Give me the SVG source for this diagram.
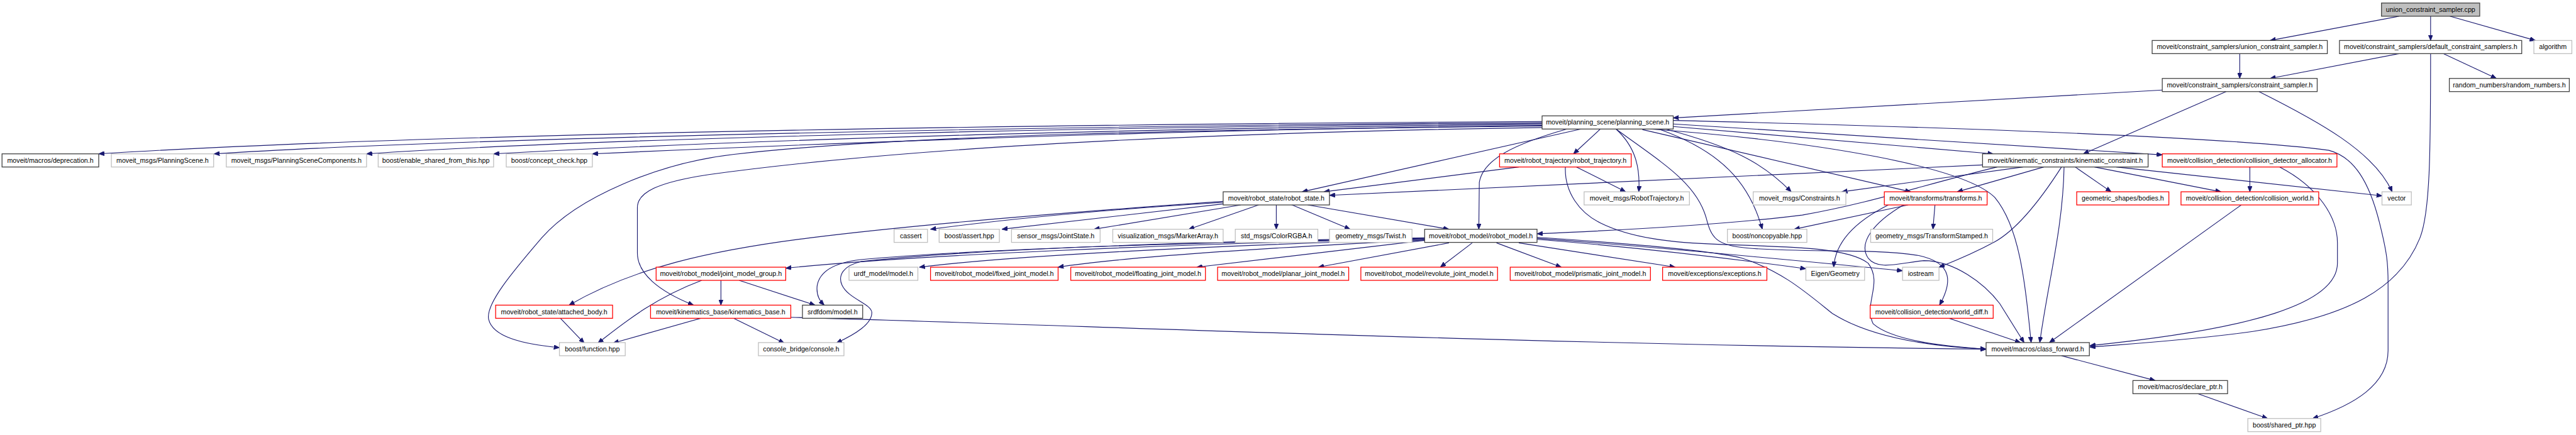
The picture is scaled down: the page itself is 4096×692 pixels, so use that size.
<svg xmlns="http://www.w3.org/2000/svg" width="4096" height="692" viewBox="0 0 4096 692">
<defs>
<marker id="ah" markerUnits="userSpaceOnUse" markerWidth="12" markerHeight="9" refX="11" refY="4.5" orient="auto"><path d="M0,0 L11,4.5 L0,9 z" fill="#191970" stroke="#191970" stroke-width="1"/></marker>
</defs>
<style>
.e{fill:none;stroke:#191970;stroke-width:1.4;marker-end:url(#ah)}
.n rect{fill:#fff;stroke-width:1.6}
.k rect{stroke:#404040}
.g rect{stroke:#bfbfbf}
.r rect{stroke:#ff0000}
.root rect{fill:#bfbfbf;stroke:#404040}
text{font-family:"Liberation Sans",Arial,sans-serif;font-size:13.3px;fill:#000;text-anchor:middle}
</style>
<rect width="4096" height="692" fill="#fff"/>
<g transform="scale(0.805)">
<g id="edges">
<path class="e" d="M4739,32 L4484,80"/>
<path class="e" d="M4801,32 L4801,80"/>
<path class="e" d="M4839,32 L5008,80"/>
<path class="e" d="M4424,106 L4424,155"/>
<path class="e" d="M4739,106 L4484,155"/>
<path class="e" d="M4826,106 L4931,155"/>
<path class="e" d="M4801,106 C4801,300 4800,420 4780,470 C4740,570 4640,625 4450,655 C4330,672 4200,680 4128,686"/>
<path class="e" d="M4271,178 L3305,233"/>
<path class="e" d="M4397,181 L4115,304"/>
<path class="e" d="M4462,181 C4580,240 4690,300 4725,379"/>
<path class="e" d="M3046,240 C2200,245 900,260 195,304"/>
<path class="e" d="M3046,242 C2200,248 1000,268 423,304"/>
<path class="e" d="M3046,244 C2200,250 1200,272 724,304"/>
<path class="e" d="M3046,246 C2300,252 1500,275 975,304"/>
<path class="e" d="M3046,248 C2400,255 1700,280 1170,304"/>
<path class="e" d="M3046,249 C2400,256 1800,265 1450,305 C1300,322 1140,390 1070,470 C1010,540 960,600 965,630 C972,665 1030,680 1105,687"/>
<path class="e" d="M3046,252 C2400,262 1800,290 1400,345 C1300,360 1259,380 1259,410 L1259,500 C1259,540 1300,575 1370,603"/>
<path class="e" d="M3123,255 L2572,379"/>
<path class="e" d="M3161,255 L3108,304"/>
<path class="e" d="M3192,255 C3230,290 3240,330 3237,379"/>
<path class="e" d="M3095,255 C2990,285 2930,315 2922,360 L2921,453"/>
<path class="e" d="M3192,255 C3280,320 3350,360 3370,430 C3380,470 3390,485 3450,490 C3560,500 3700,490 3790,505 C3860,520 3855,560 3831,603"/>
<path class="e" d="M3260,255 C3600,280 3880,330 3940,390 C3990,450 4000,560 4012,677"/>
<path class="e" d="M3290,255 C3420,290 3480,320 3538,379"/>
<path class="e" d="M3244,256 L3774,379"/>
<path class="e" d="M3279,256 C3400,300 3455,360 3481,453"/>
<path class="e" d="M3305,250 L3937,304"/>
<path class="e" d="M3305,245 L4271,306"/>
<path class="e" d="M3305,238 C3800,250 4400,270 4600,297 C4650,310 4680,360 4700,440 C4715,500 4717,520 4717,560 L4717,693 C4717,760 4650,800 4568,827"/>
<path class="e" d="M3000,330 L2615,379"/>
<path class="e" d="M3114,330 L3211,379"/>
<path class="e" d="M3092,330 C3090,380 3120,420 3160,440 C3220,470 3300,480 3400,483 C3550,488 3650,490 3690,520 C3720,560 3680,600 3700,640 C3740,675 3850,685 3923,690"/>
<path class="e" d="M3916,326 L2626,386"/>
<path class="e" d="M3996,330 L3638,379"/>
<path class="e" d="M4037,330 L3866,379"/>
<path class="e" d="M3945,330 C3800,365 3700,400 3560,425 C3400,445 3200,455 3036,462"/>
<path class="e" d="M4099,330 L4170,379"/>
<path class="e" d="M4137,330 L4387,379"/>
<path class="e" d="M4180,330 L4705,387"/>
<path class="e" d="M4072,330 C4040,380 3990,450 3940,478 C3890,505 3850,520 3830,528"/>
<path class="e" d="M4077,330 C4075,450 4045,560 4029,677"/>
<path class="e" d="M4444,330 L4444,379"/>
<path class="e" d="M4503,330 C4580,370 4617,430 4617,480 L4617,520 C4617,600 4450,650 4128,683"/>
<path class="e" d="M4427,405 L4048,677"/>
<path class="e" d="M3769,405 L3544,453"/>
<path class="e" d="M3730,405 C3660,440 3625,480 3622,528"/>
<path class="e" d="M3822,405 L3818,453"/>
<path class="e" d="M3760,405 C3700,440 3670,480 3690,510 C3710,535 3750,520 3800,515 C3860,515 3920,560 3950,600 L3998,677"/>
<path class="e" d="M3850,629 L3991,677"/>
<path class="e" d="M4072,703 L4257,752"/>
<path class="e" d="M4341,778 L4479,827"/>
<path class="e" d="M2583,405 L2862,453"/>
<path class="e" d="M2550,404 L2667,453"/>
<path class="e" d="M2521,405 L2521,453"/>
<path class="e" d="M2486,405 L2348,453"/>
<path class="e" d="M2451,405 L2161,453"/>
<path class="e" d="M2416,403 L1979,453"/>
<path class="e" d="M2416,400 C2250,410 2050,425 1838,453"/>
<path class="e" d="M2416,398 C2100,420 1800,445 1600,470 C1400,495 1250,530 1124,603"/>
<path class="e" d="M2862,480 L2604,528"/>
<path class="e" d="M2908,480 L2845,528"/>
<path class="e" d="M2956,480 L3084,528"/>
<path class="e" d="M3000,480 L3309,528"/>
<path class="e" d="M2814,475 L2364,528"/>
<path class="e" d="M2814,474 C2500,490 2200,510 2090,528"/>
<path class="e" d="M2814,473 C2400,485 2000,505 1816,528"/>
<path class="e" d="M2814,472 C2300,482 1800,505 1552,530"/>
<path class="e" d="M2814,471 C2300,480 1900,495 1700,513 C1640,520 1618,540 1614,565 C1612,585 1620,595 1628,603"/>
<path class="e" d="M2814,470 C2300,478 1900,495 1700,517 C1665,525 1655,545 1663,563 C1675,590 1720,600 1722,617 C1723,640 1690,660 1652,678"/>
<path class="e" d="M3036,473 C3250,490 3450,515 3567,531"/>
<path class="e" d="M3036,471 C3300,490 3600,520 3758,535"/>
<path class="e" d="M3036,469 C3200,480 3380,495 3440,510 C3520,535 3570,580 3620,620 C3700,670 3820,685 3923,690"/>
<path class="e" d="M1424,554 L1424,603"/>
<path class="e" d="M1460,554 L1610,603"/>
<path class="e" d="M1386,554 C1290,590 1230,640 1181,678"/>
<path class="e" d="M1107,629 L1154,678"/>
<path class="e" d="M1384,629 L1211,678"/>
<path class="e" d="M1449,629 L1549,678"/>
<path class="e" d="M1562,627 C2200,645 3000,680 3923,690"/>
</g>
<g id="n_cpp" class="n root"><rect x="4704" y="6" width="194" height="26"/><text x="4801" y="23.5">union_constraint_sampler.cpp</text></g>
<g id="n_ucs" class="n k"><rect x="4251" y="80" width="346" height="26"/><text x="4424" y="97.5">moveit/constraint_samplers/union_constraint_sampler.h</text></g>
<g id="n_dcs" class="n k"><rect x="4621" y="80" width="360" height="26"/><text x="4801" y="97.5">moveit/constraint_samplers/default_constraint_samplers.h</text></g>
<g id="n_alg" class="n g"><rect x="5005" y="80" width="75" height="26"/><text x="5042.5" y="97.5">algorithm</text></g>
<g id="n_cs" class="n k"><rect x="4271" y="155" width="306" height="26"/><text x="4424" y="172.5">moveit/constraint_samplers/constraint_sampler.h</text></g>
<g id="n_rnd" class="n k"><rect x="4838" y="155" width="237" height="26"/><text x="4956.5" y="172.5">random_numbers/random_numbers.h</text></g>
<g id="n_ps" class="n k"><rect x="3046" y="229" width="259" height="26"/><text x="3175.5" y="246.5">moveit/planning_scene/planning_scene.h</text></g>
<g id="n_dep" class="n k"><rect x="4" y="304" width="191" height="26"/><text x="99.5" y="321.5">moveit/macros/deprecation.h</text></g>
<g id="n_msgps" class="n g"><rect x="220" y="304" width="202" height="26"/><text x="321" y="321.5">moveit_msgs/PlanningScene.h</text></g>
<g id="n_pscomp" class="n g"><rect x="447" y="304" width="277" height="26"/><text x="585.5" y="321.5">moveit_msgs/PlanningSceneComponents.h</text></g>
<g id="n_esft" class="n g"><rect x="747" y="304" width="228" height="26"/><text x="861" y="321.5">boost/enable_shared_from_this.hpp</text></g>
<g id="n_cc" class="n g"><rect x="1000" y="304" width="170" height="26"/><text x="1085" y="321.5">boost/concept_check.hpp</text></g>
<g id="n_rt" class="n r"><rect x="2962" y="304" width="260" height="26"/><text x="3092" y="321.5">moveit/robot_trajectory/robot_trajectory.h</text></g>
<g id="n_kc" class="n k"><rect x="3916" y="304" width="327" height="26"/><text x="4079.5" y="321.5">moveit/kinematic_constraints/kinematic_constraint.h</text></g>
<g id="n_cda" class="n r"><rect x="4271" y="304" width="345" height="26"/><text x="4443.5" y="321.5">moveit/collision_detection/collision_detector_allocator.h</text></g>
<g id="n_rs" class="n k"><rect x="2416" y="379" width="210" height="26"/><text x="2521" y="396.5">moveit/robot_state/robot_state.h</text></g>
<g id="n_msgrt" class="n g"><rect x="3129" y="379" width="208" height="26"/><text x="3233" y="396.5">moveit_msgs/RobotTrajectory.h</text></g>
<g id="n_con" class="n g"><rect x="3463" y="379" width="183" height="26"/><text x="3554.5" y="396.5">moveit_msgs/Constraints.h</text></g>
<g id="n_tf" class="n r"><rect x="3722" y="379" width="203" height="26"/><text x="3823.5" y="396.5">moveit/transforms/transforms.h</text></g>
<g id="n_bod" class="n r"><rect x="4102" y="379" width="182" height="26"/><text x="4193" y="396.5">geometric_shapes/bodies.h</text></g>
<g id="n_cw" class="n r"><rect x="4308" y="379" width="272" height="26"/><text x="4444" y="396.5">moveit/collision_detection/collision_world.h</text></g>
<g id="n_vec" class="n g"><rect x="4705" y="379" width="58" height="26"/><text x="4734" y="396.5">vector</text></g>
<g id="n_cas" class="n g"><rect x="1766" y="453" width="66" height="26"/><text x="1799" y="470.5">cassert</text></g>
<g id="n_bas" class="n g"><rect x="1855" y="453" width="119" height="26"/><text x="1914.5" y="470.5">boost/assert.hpp</text></g>
<g id="n_js" class="n g"><rect x="1998" y="453" width="175" height="26"/><text x="2085.5" y="470.5">sensor_msgs/JointState.h</text></g>
<g id="n_ma" class="n g"><rect x="2198" y="453" width="218" height="26"/><text x="2307" y="470.5">visualization_msgs/MarkerArray.h</text></g>
<g id="n_col" class="n g"><rect x="2440" y="453" width="163" height="26"/><text x="2521.5" y="470.5">std_msgs/ColorRGBA.h</text></g>
<g id="n_tw" class="n g"><rect x="2626" y="453" width="163" height="26"/><text x="2707.5" y="470.5">geometry_msgs/Twist.h</text></g>
<g id="n_rm" class="n k"><rect x="2814" y="453" width="222" height="26"/><text x="2925" y="470.5">moveit/robot_model/robot_model.h</text></g>
<g id="n_nc" class="n g"><rect x="3412" y="453" width="157" height="26"/><text x="3490.5" y="470.5">boost/noncopyable.hpp</text></g>
<g id="n_tfs" class="n g"><rect x="3695" y="453" width="241" height="26"/><text x="3815.5" y="470.5">geometry_msgs/TransformStamped.h</text></g>
<g id="n_jmg" class="n r"><rect x="1296" y="528" width="256" height="26"/><text x="1424" y="545.5">moveit/robot_model/joint_model_group.h</text></g>
<g id="n_urdf" class="n g"><rect x="1677" y="528" width="136" height="26"/><text x="1745" y="545.5">urdf_model/model.h</text></g>
<g id="n_fix" class="n r"><rect x="1838" y="528" width="252" height="26"/><text x="1964" y="545.5">moveit/robot_model/fixed_joint_model.h</text></g>
<g id="n_flo" class="n r"><rect x="2115" y="528" width="266" height="26"/><text x="2248" y="545.5">moveit/robot_model/floating_joint_model.h</text></g>
<g id="n_pla" class="n r"><rect x="2405" y="528" width="259" height="26"/><text x="2534.5" y="545.5">moveit/robot_model/planar_joint_model.h</text></g>
<g id="n_rev" class="n r"><rect x="2688" y="528" width="270" height="26"/><text x="2823" y="545.5">moveit/robot_model/revolute_joint_model.h</text></g>
<g id="n_pri" class="n r"><rect x="2983" y="528" width="277" height="26"/><text x="3121.5" y="545.5">moveit/robot_model/prismatic_joint_model.h</text></g>
<g id="n_exc" class="n r"><rect x="3284" y="528" width="206" height="26"/><text x="3387" y="545.5">moveit/exceptions/exceptions.h</text></g>
<g id="n_eig" class="n g"><rect x="3567" y="528" width="116" height="26"/><text x="3625" y="545.5">Eigen/Geometry</text></g>
<g id="n_ios" class="n g"><rect x="3758" y="528" width="72" height="26"/><text x="3794" y="545.5">iostream</text></g>
<g id="n_ab" class="n r"><rect x="979" y="603" width="231" height="26"/><text x="1094.5" y="620.5">moveit/robot_state/attached_body.h</text></g>
<g id="n_kb" class="n r"><rect x="1285" y="603" width="277" height="26"/><text x="1423.5" y="620.5">moveit/kinematics_base/kinematics_base.h</text></g>
<g id="n_srdf" class="n k"><rect x="1585" y="603" width="119" height="26"/><text x="1644.5" y="620.5">srdfdom/model.h</text></g>
<g id="n_wd" class="n r"><rect x="3694" y="603" width="243" height="26"/><text x="3815.5" y="620.5">moveit/collision_detection/world_diff.h</text></g>
<g id="n_fn" class="n g"><rect x="1105" y="677" width="130" height="26"/><text x="1170" y="694.5">boost/function.hpp</text></g>
<g id="n_cb" class="n g"><rect x="1498" y="677" width="169" height="26"/><text x="1582.5" y="694.5">console_bridge/console.h</text></g>
<g id="n_cf" class="n k"><rect x="3923" y="677" width="204" height="26"/><text x="4025" y="694.5">moveit/macros/class_forward.h</text></g>
<g id="n_dp" class="n k"><rect x="4213" y="752" width="187" height="26"/><text x="4306.5" y="769.5">moveit/macros/declare_ptr.h</text></g>
<g id="n_sp" class="n g"><rect x="4440" y="827" width="144" height="26"/><text x="4512" y="844.5">boost/shared_ptr.hpp</text></g>
</g>
</svg>
